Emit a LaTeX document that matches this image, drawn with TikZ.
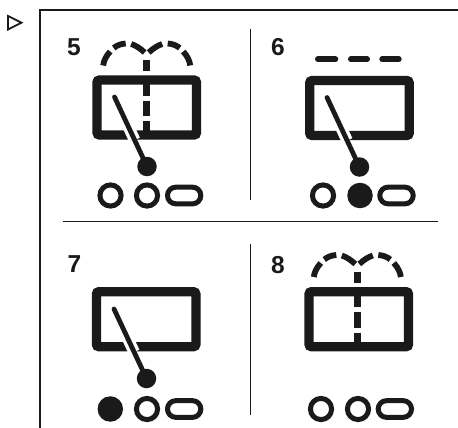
\documentclass[tikz,border=0pt]{standalone}
\usepackage{fontspec}
\setmainfont{Liberation Sans}
\definecolor{ink}{HTML}{1A1A1A}
\tikzset{
  x=1pt,y=-1pt,
  rule/.style={draw=ink,line width=1.5pt},
  frameline/.style={draw=ink,line width=1.7pt},
  numlabel/.style={font=\bfseries\fontsize{24.5}{24.5}\selectfont,text=ink,inner sep=0pt},
  housing/.style={draw=ink,line width=9.3pt,rounded corners=2.5pt},
  needle/.style={draw=ink,line width=4.8pt,line cap=round},
  halo/.style={draw=white,line width=11.5pt},
  knob/.style={fill=ink,draw=none,circle,inner sep=0pt,minimum size=19.5pt},
  ringlamp/.style={draw=ink,line width=5pt,circle,inner sep=0pt,minimum size=21.2pt,fill=white},
  solidlamp/.style={fill=ink,draw=none,circle,inner sep=0pt,minimum size=25.5pt},
  stadium/.style={draw=ink,line width=5pt,rounded corners=8.3pt},
  spray/.style={draw=ink,line width=5.8pt},
  bar/.style={draw=ink,line width=7.3pt},
  flat/.style={draw=ink,line width=5.6pt,line cap=round}
}
\newcommand{\boxshape}[2]{\draw[housing] (#1,#2) rectangle ++(99.5,55);}
\newcommand{\wiper}[3]{%
  \coordinate (#3a) at (#1,#2);
  \coordinate (#3b) at (#1+32.5,#2+69.5);
  \path[halo] ($(#3a)!0.42!(#3b)$) -- ($(#3a)!0.62!(#3b)$);
  \draw[needle] (#3a) -- (#3b);
  \node[knob] (#3k) at (#3b) {};
}
\newcommand{\stad}[3]{\draw[stadium] (#1,#3-8.35) rectangle (#2,#3+8.35);}
\newcommand{\sprayart}[2]{%
  \begin{scope}[shift={(#1,#2)}]
    \draw[spray] (-43.5,24.5) .. controls (-43,20) and (-41,15.5) .. (-36.5,10.5);
    \draw[spray] (-33,7) .. controls (-30,4.5) and (-26,2.8) .. (-21,2.5);
    \draw[spray] (-15.5,3) .. controls (-11,4.5) and (-7,7) .. (-2,11.5);
    \draw[spray] (43.5,24.5) .. controls (43,20) and (41,15.5) .. (36.5,10.5);
    \draw[spray] (33,7) .. controls (30,4.5) and (26,2.8) .. (21,2.5);
    \draw[spray] (15.5,3) .. controls (11,4.5) and (7,7) .. (2,11.5);
    \draw[bar] (0,19) -- (0,30);
    \draw[bar] (0,43.5) -- (0,54.7);
    \draw[bar] (0,59.7) -- (0,75);
    \draw[bar] (0,80.3) -- (0,90);
  \end{scope}
}
\usetikzlibrary{calc}
\begin{document}
\begin{tikzpicture}
\useasboundingbox (0,0) rectangle (458,428);
\fill[white] (0,0) rectangle (458,428);
\coordinate (tl) at (40,10);
\coordinate (tr) at (458,10);
\coordinate (bl) at (40,428);
\draw[frameline] (tr) -- (tl) -- (bl);
\coordinate (ta) at (8,16);
\coordinate (tb) at (21.5,22.7);
\coordinate (tc) at (8,29.5);
\draw[ink,line width=1.8pt,line join=miter] (ta) -- (tb) -- (tc) -- cycle;
\coordinate (h1) at (62.5,221.7);
\coordinate (h2) at (437.7,221.7);
\draw[rule] (h1) -- (h2);
\coordinate (v1) at (250.7,29);
\coordinate (v2) at (250.7,200);
\coordinate (v3) at (250.7,244);
\coordinate (v4) at (250.7,415);
\draw[rule] (v1) -- (v2);
\draw[rule] (v3) -- (v4);
\node[numlabel] (n5) at (74,47) {5};
\node[numlabel] (n6) at (278,47.5) {6};
\node[numlabel] (n7) at (74.5,264) {7};
\node[numlabel] (n8) at (278,265) {8};
\boxshape{97}{80}
\sprayart{146.7}{41}
\wiper{114.5}{97}{a}
\node[ringlamp] (a1) at (110.5,195.5) {};
\node[ringlamp] (a2) at (147,195.5) {};
\stad{167.5}{200.8}{195.5}
\boxshape{309.7}{80.5}
\wiper{327}{97.5}{b}
\coordinate (d1) at (315,59.3); \coordinate (d2) at (338.3,59.3);
\coordinate (d3) at (348,59.3); \coordinate (d4) at (370,59.3);
\coordinate (d5) at (379.3,59.3); \coordinate (d6) at (401.7,59.3);
\draw[flat] ($(d1)+(2.8,0)$) -- ($(d2)-(2.8,0)$);
\draw[flat] ($(d3)+(2.8,0)$) -- ($(d4)-(2.8,0)$);
\draw[flat] ($(d5)+(2.8,0)$) -- ($(d6)-(2.8,0)$);
\node[ringlamp] (b1) at (323,195.5) {};
\node[solidlamp] (b2) at (360,195.5) {};
\stad{379.8}{413.2}{195.5}
\boxshape{96.4}{291.7}
\wiper{114}{309}{c}
\node[solidlamp] (c1) at (110.3,409) {};
\node[ringlamp] (c2) at (147,409) {};
\stad{167.5}{200.8}{409}
\boxshape{309}{291.7}
\sprayart{357.3}{252.5}
\node[ringlamp] (e1) at (321,409) {};
\node[ringlamp] (e2) at (358,409) {};
\stad{378.2}{411.5}{409}
\end{tikzpicture}
\end{document}
